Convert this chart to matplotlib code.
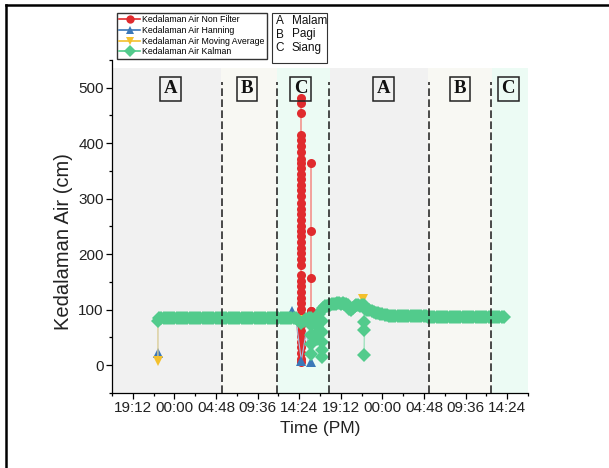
import matplotlib
matplotlib.use("Agg")
import matplotlib.pyplot as plt
from matplotlib.lines import Line2D
from matplotlib.patches import Rectangle
from matplotlib.ticker import MultipleLocator

plt.rcParams['font.family'] = ['Liberation Sans', 'DejaVu Sans']

# hours counted from 00:00 of the first night
tick_hours = [-4.8, 0.0, 4.8, 9.6, 14.4, 19.2, 24.0, 28.8, 33.6, 38.4]
tick_labels = ["19:12", "00:00", "04:48", "09:36", "14:24",
               "19:12", "00:00", "04:48", "09:36", "14:24"]

# period boundaries (shaded spans) and the dashed separators
span_edges = [-7.2, 5.4, 11.8, 17.9, 29.3, 36.6, 40.8]
span_names = ["A", "B", "C", "A", "B", "C"]
span_label_hours = [-0.4, 8.4, 14.6, 24.1, 33.0, 38.5]
dash_hours = [5.45, 11.8, 17.85, 29.4, 36.5]

raw_hours = [-1.9, 13.0, 14.0] + [14.6] * 45 + [15.76] * 5 + [16.5, 17.5, 20.0, 25.0, 38.0]
raw_depth = [85, 85, 85,
             5, 12, 22, 32, 42, 52, 62, 72, 82, 92, 102, 112, 122, 132, 142,
             152, 162, 180, 192, 202, 212, 222, 232, 242, 250, 262, 272, 282,
             292, 305, 315, 325, 335, 345, 355, 365, 372, 385, 395, 405, 415,
             455, 473, 482, 85,
             97, 158, 242, 364, 97,
             86, 106, 110, 89, 86]
raw_marked = list(range(3, 53))

hanning_hours = [-1.9, -1.9, 2.0, 6.0, 10.0, 13.0, 13.53, 14.0, 14.65, 15.2,
                 15.8, 16.4, 17.5, 19.0, 20.5, 21.9, 23.0, 25.0, 30.0, 35.0, 38.0]
hanning_depth = [22, 84, 85, 85, 85, 85, 98, 86, 8, 60,
                 6, 80, 106, 110, 108, 104, 96, 89, 87, 86, 86]
hanning_marked = [0, 6, 8, 10]

ma_hours = [-1.9, -1.9, 2.0, 6.0, 10.0, 13.0, 14.0, 14.8, 15.5, 16.5,
            17.5, 19.0, 20.5, 21.75, 23.0, 25.0, 30.0, 35.0, 38.0]
ma_depth = [7, 84, 85, 85, 85, 85, 85, 82, 78, 88,
            106, 110, 108, 119, 96, 89, 87, 86, 86]
ma_marked = [0, 7, 13]

kalman_hours = [
    -1.9, -1.75, -1.5, -1.25, -1.0, -0.75, -0.5, -0.25, 0.0, 0.25, 0.5,
    0.75, 1.0, 1.25, 1.5, 1.75, 2.0, 2.25, 2.5, 2.75, 3.0, 3.25, 3.5,
    3.75, 4.0, 4.25, 4.5, 4.75, 5.0, 5.25, 5.5, 5.75, 6.0, 6.25,
    6.5, 6.75, 7.0, 7.25, 7.5, 7.75, 8.0, 8.25, 8.5, 8.75, 9.0, 9.25,
    9.5, 9.75, 10.0, 10.25, 10.5, 10.75, 11.0, 11.25, 11.5, 11.75, 12.0,
    12.25, 12.5, 12.75, 13.0, 13.25, 13.5, 13.75, 14.0,
    14.3, 14.6, 14.9, 15.2, 15.5, 15.76, 15.76, 15.76, 15.76, 15.76,
    16.1, 16.4, 16.4, 16.4, 16.4, 16.7, 17.0, 17.0, 17.0, 17.0, 17.0, 17.0,
    17.2, 17.4, 17.6, 17.8, 18.0, 18.2, 18.4, 18.6, 18.8, 19.0, 19.2, 19.4,
    19.6, 19.8, 20.0, 20.2, 20.4, 20.6, 20.8, 21.0, 21.2, 21.4, 21.6,
    21.9, 21.9, 21.9, 21.9, 22.0, 22.25, 22.5, 22.75, 23.0, 23.25, 23.5,
    23.75, 24.0, 24.25, 24.5, 24.75, 25.0,
    25.25, 25.5, 25.75, 26.0, 26.25, 26.5, 26.75, 27.0, 27.25, 27.5, 27.75,
    28.0, 28.25, 28.5, 28.75, 29.0, 29.25, 29.5, 29.75, 30.0, 30.25, 30.5,
    30.75, 31.0, 31.25, 31.5, 31.75, 32.0, 32.25, 32.5, 32.75, 33.0, 33.25,
    33.5, 33.75, 34.0, 34.25, 34.5, 34.75, 35.0, 35.25, 35.5, 35.75, 36.0,
    36.25, 36.5, 36.75, 37.0, 37.25, 37.5, 37.75, 38.0]
kalman_depth = [
    80, 85, 85, 85, 85, 85, 85, 85, 85, 85, 85,
    85, 85, 85, 85, 85, 85, 85, 85, 85, 85, 85, 85,
    85, 85, 85, 85, 85, 85, 85, 85, 85, 85, 85,
    86, 86, 86, 86, 86, 86, 86, 86, 86, 86, 86, 86,
    86, 86, 86, 86, 86, 86, 86, 86, 86, 86, 86,
    86, 86, 86, 86, 86, 86, 86, 85,
    82, 76, 79, 83, 85, 86, 72, 55, 38, 20,
    80, 84, 70, 58, 48, 92, 100, 80, 60, 42, 28, 14,
    104, 106, 107, 108, 109, 110, 111, 111, 112, 112, 111, 112,
    111, 110, 108, 101, 99, 104, 107, 108, 109, 107, 108,
    108, 78, 64, 19, 102, 100, 99, 98, 96, 95, 94,
    93, 92, 91, 90, 89, 89,
    88, 88, 88, 88, 88, 88, 88, 88, 88, 88, 88,
    88, 88, 88, 88, 88, 87, 87, 87, 87, 87, 87,
    87, 87, 87, 87, 87, 87, 87, 87, 87, 87, 87,
    87, 87, 87, 87, 87, 87, 87, 87, 87, 87, 87,
    87, 87, 87, 87, 87, 87, 87, 87]

fig = plt.figure(figsize=(6.09, 4.68), dpi=100)
ax = fig.add_axes([0.1839, 0.1603, 0.6831, 0.7115])

shade = {"A": "#f1f1f1", "B": "#f8f8f3", "C": "#ecfbf4"}
for i, name in enumerate(span_names):
    ax.axvspan(span_edges[i], span_edges[i + 1], ymin=0, ymax=(535 + 50) / 600,
               color=shade[name], lw=0, zorder=0)

series_style = [
    ("Kedalaman Air Non Filter", "o", 6.5, "#e02b2e", "#f2a39d"),
    ("Kedalaman Air Hanning", "^", 7, "#3c78b8", "#a3bfe0"),
    ("Kedalaman Air Moving Average", "v", 7, "#f3c02c", "#f6d98a"),
    ("Kedalaman Air Kalman", "D", 7, "#52cb8c", "#a6e3c2"),
]
series_data = [
    (raw_hours, raw_depth, raw_marked),
    (hanning_hours, hanning_depth, hanning_marked),
    (ma_hours, ma_depth, ma_marked),
    (kalman_hours, kalman_depth, None),
]
handles = []
for (label, mk, ms, mcol, lcol), (xs, ys, marked), z in zip(series_style, series_data, [2, 3, 3, 4]):
    ax.plot(xs, ys, color=lcol, lw=0.8, marker=mk, ms=ms, mfc=mcol, mec=mcol,
            mew=0, markevery=marked, zorder=z)
    handles.append(Line2D([], [], color=mcol, lw=1.2, marker=mk, ms=6,
                          mfc=mcol, mec=mcol, mew=0, label=label))

ax.vlines(dash_hours, -50, 511, colors="#1a1a1a", lw=1.1,
          linestyles=(0, (5, 2.2)), zorder=5)

for h, name in zip(span_label_hours, span_names):
    ax.text(h, 498, name, ha="center", va="center", fontsize=13.5,
            fontfamily="Liberation Serif", fontweight="bold", color="#111",
            bbox=dict(boxstyle="square,pad=0.2", fc="none", ec="#222", lw=1.1),
            zorder=6)

ax.set_xlim(-7.2, 40.8)
ax.set_ylim(-50, 550)
ax.set_xticks(tick_hours)
ax.set_xticklabels(tick_labels)
ax.xaxis.set_minor_locator(MultipleLocator(2.4))
ax.set_yticks([0, 100, 200, 300, 400, 500])
ax.yaxis.set_minor_locator(MultipleLocator(50))
ax.tick_params(which="major", length=4, width=0.9, labelsize=11,
               labelcolor="#222", pad=2)
ax.tick_params(which="minor", length=2.5, width=0.9)
for side in ("top", "right"):
    ax.spines[side].set_visible(False)
for side in ("left", "bottom"):
    ax.spines[side].set_linewidth(0.9)

ax.set_xlabel("Time (PM)", fontsize=12.5, color="#222", labelpad=4)
ax.set_ylabel("Kedalaman Air (cm)", fontsize=14.5, color="#222")
ax.yaxis.set_label_coords(-0.094, 0.456)

ax.legend(handles=handles, loc="upper left",
          bbox_to_anchor=(117 / 609, 1 - 13 / 468),
          bbox_transform=fig.transFigure, fontsize=6.3, frameon=True,
          fancybox=False, edgecolor="#333", framealpha=1, borderpad=0.25,
          labelspacing=0.2, handlelength=2.4, handletextpad=0.2,
          borderaxespad=0)

# period key
fig.add_artist(Rectangle((272 / 609, 1 - 63 / 468), 55 / 609, 50 / 468,
                         transform=fig.transFigure, fill=False,
                         ec="#333", lw=0.8))
for row, (letter, word) in enumerate([("A", "Malam"), ("B", "Pagi"), ("C", "Siang")]):
    y = 1 - (21 + row * 13.5) / 468
    fig.text(280 / 609, y, letter, ha="center", va="center", fontsize=8.5, color="#111")
    fig.text(292 / 609, y, word, ha="left", va="center", fontsize=8.5, color="#111")

# outer frame of the original figure page
fig.add_artist(Line2D([6 / 609, 1], [1 - 5 / 468, 1 - 5 / 468],
                      transform=fig.transFigure, color="k", lw=1.8))
fig.add_artist(Line2D([6 / 609, 6 / 609], [0, 1 - 5 / 468],
                      transform=fig.transFigure, color="k", lw=1.8))

fig.savefig("out.png", dpi=100)
